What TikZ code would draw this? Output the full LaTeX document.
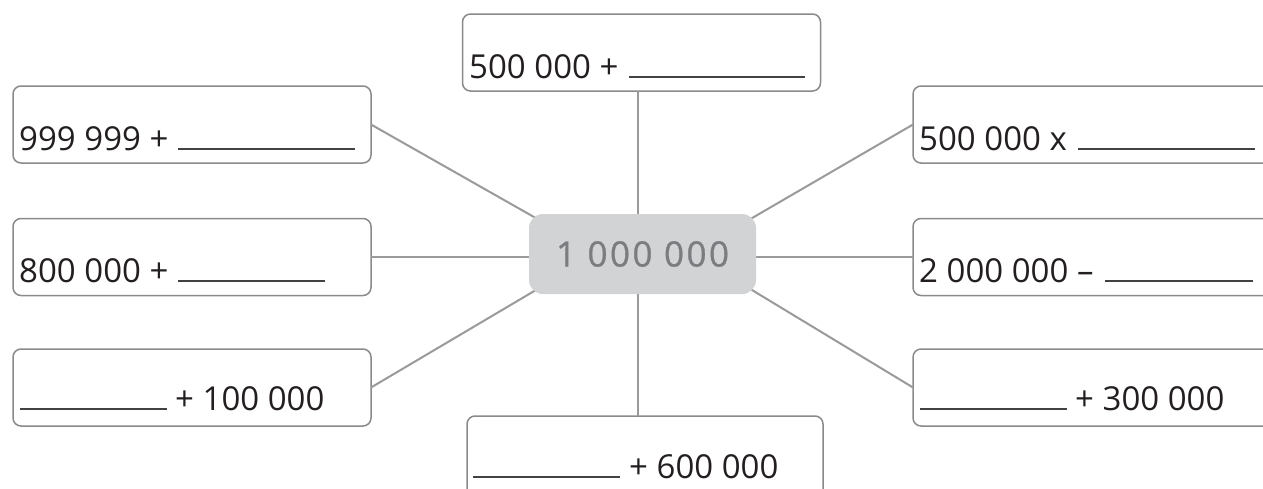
\documentclass[tikz,border=0pt]{standalone}
\usepackage{fontspec}
\setmainfont{Open Sans}
\newfontfamily\centerfont{Open Sans}[LetterSpace=7,FakeBold=0.8]
\definecolor{boxline}{HTML}{8A8A8A}
\definecolor{connline}{HTML}{9A9A9A}
\definecolor{hubfill}{HTML}{D1D3D4}
\definecolor{hubtext}{HTML}{7A7C80}
\definecolor{txt}{HTML}{231F20}
\begin{document}
\begin{tikzpicture}[x=1pt,y=-1pt,
  qbox/.style={draw=boxline,line width=1.5pt,rounded corners=8pt,fill=white,
    inner sep=0pt,outer sep=0pt,minimum width=358pt,minimum height=77pt},
  hub/.style={fill=hubfill,rounded corners=14pt,inner sep=0pt,outer sep=0pt,
    minimum width=227pt,minimum height=80pt,text=hubtext,
    font=\centerfont\fontsize{35}{40}\selectfont},
  qtext/.style={anchor=base west,inner sep=0pt,text=txt,
    font=\fontsize{33}{38}\selectfont},
  conn/.style={draw=connline,line width=2pt},
  blank/.style={draw=txt!85,line width=1.4pt}]
\useasboundingbox (0,0) rectangle (1263,488);
% boxes
\node[qbox] (top) at (641.5,52.5) {};
\node[qbox] (l1) at (192,124.5) {};
\node[qbox] (l2) at (192,257) {};
\node[qbox] (l3) at (192,387.5) {};
\node[qbox,minimum width=362pt] (r1) at (1094,124.5) {};
\node[qbox,minimum width=362pt] (r2) at (1094,257) {};
\node[qbox,minimum width=362pt] (r3) at (1094,387.5) {};
\node[qbox,minimum width=356pt,minimum height=86pt] (bot) at (645,459) {};
% hub end points for the connectors
\coordinate (hmid) at (638,256);
\coordinate (hnw) at (541,221);
\coordinate (hsw) at (541,287);
\coordinate (hne) at (747,221);
\coordinate (hse) at (747,287);
% connectors
\draw[conn] (hmid |- top.south) -- (hmid);
\draw[conn] (hmid |- bot.north) -- (hmid);
\draw[conn] (l2.east) -- (hmid |- l2.east);
\draw[conn] (r2.west) -- (hmid |- r2.west);
\draw[conn] (l1.east) -- (hnw);
\draw[conn] (l3.east) -- (hsw);
\draw[conn] (r1.west) -- (hne);
\draw[conn] (r3.west) -- (hse);
% hub
\node[hub] (hub) at (642.5,254) {1 000 000};
% texts
\node[qtext] (ttop) at (469,78) {500 000 +};
\draw[blank] (629,77) -- (805,77);
\node[qtext] (tl1) at (19,150) {999 999 +};
\draw[blank] (178,149) -- (355,149);
\node[qtext] (tl2) at (19,282) {800 000 +};
\draw[blank] (178,281) -- (325,281);
\node[qtext] (tl3) at (175,410) {+ 100 000};
\draw[blank] (20,409) -- (167,409);
\node[qtext] (tr1) at (919,150) {500 000 x};
\draw[blank] (1078,149) -- (1255,149);
\node[qtext] (tr2) at (919,282) {2 000 000 –};
\draw[blank] (1105,281) -- (1253,281);
\node[qtext] (tr3) at (1075,410) {+ 300 000};
\draw[blank] (920,409) -- (1067,409);
\node[qtext] (tbot) at (629,478) {+ 600 000};
\draw[blank] (473,477) -- (620,477);
\end{tikzpicture}
\end{document}
